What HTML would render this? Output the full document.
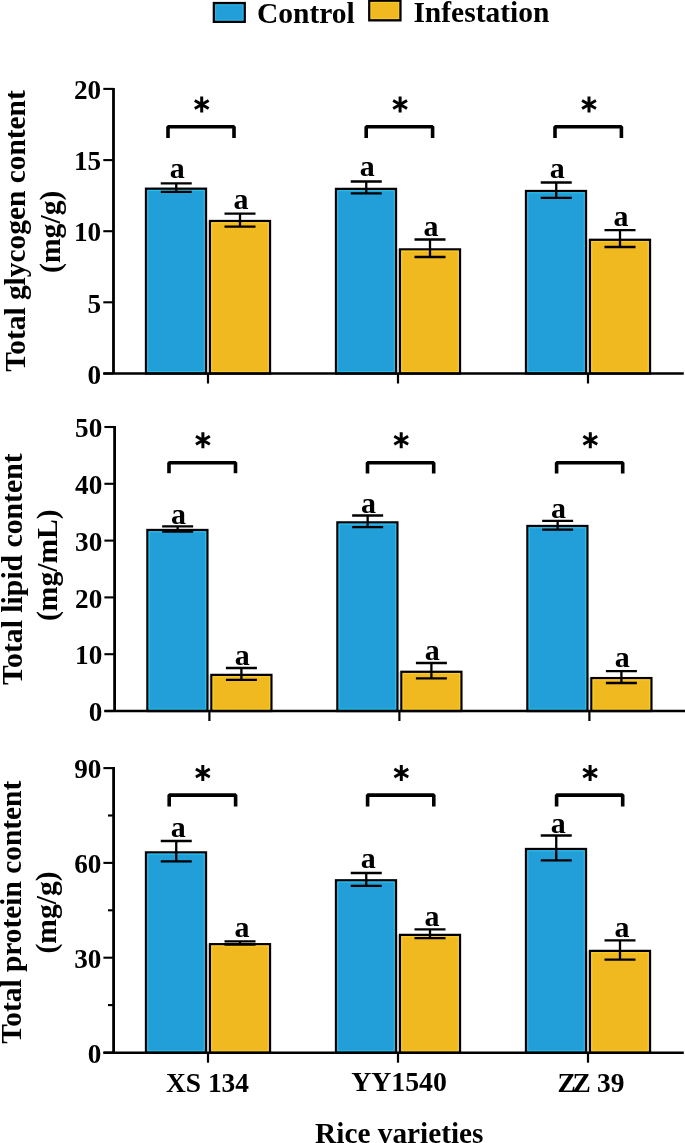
<!DOCTYPE html>
<html><head><meta charset="utf-8"><style>
html,body{margin:0;padding:0;background:#fff;}
svg{display:block;will-change:transform;}
text{font-family:"Liberation Serif", serif;font-weight:bold;fill:#000;}
</style></head><body>
<svg width="685" height="1143" viewBox="0 0 685 1143">
<rect x="213.9" y="3.1" width="30.8" height="18.7" fill="#229fd9" stroke="#000" stroke-width="2.4"/>
<rect x="215.6" y="4.8" width="27.4" height="15.3" fill="none" stroke="#2bc3ea" stroke-width="1" opacity="0.8"/>
<text x="257" y="22.5" font-size="29.5">Control</text>
<rect x="369.3" y="0.7" width="31.1" height="19.6" fill="#f0b920" stroke="#000" stroke-width="2.4"/>
<rect x="371" y="2.4" width="27.7" height="16.2" fill="none" stroke="#f9cf2a" stroke-width="1" opacity="0.8"/>
<text x="413.4" y="21.6" font-size="29.5">Infestation</text>
<rect x="207.15" y="221" width="1.7" height="152.5" fill="#e2e2e2"/>
<rect x="146" y="188.7" width="60" height="184.8" fill="#229fd9" stroke="#000" stroke-width="2.3"/><rect x="147.75" y="190.45" width="56.5" height="181.3" fill="none" stroke="#2bc3ea" stroke-width="1.2" opacity="0.9"/>
<rect x="210" y="221" width="60" height="152.5" fill="#f0b920" stroke="#000" stroke-width="2.3"/><rect x="211.75" y="222.75" width="56.5" height="149.0" fill="none" stroke="#f9cf2a" stroke-width="1.2" opacity="0.9"/>
<path d="M160.75 183.4H191.75M176.25 183.4V191.9M160.75 191.9H191.75" stroke="#000" stroke-width="2.3" fill="none"/>
<path d="M224.5 213.6H255.5M240 213.6V226.7M224.5 226.7H255.5" stroke="#000" stroke-width="2.3" fill="none"/>
<text x="177.15" y="178.3" text-anchor="middle" font-size="30">a</text>
<text x="240.9" y="209.1" text-anchor="middle" font-size="30">a</text>
<path d="M208 373.5V383.5" stroke="#000" stroke-width="2.2"/>
<rect x="397.15" y="249.4" width="1.7" height="124.1" fill="#e2e2e2"/>
<rect x="336" y="188.9" width="60" height="184.6" fill="#229fd9" stroke="#000" stroke-width="2.3"/><rect x="337.75" y="190.65" width="56.5" height="181.1" fill="none" stroke="#2bc3ea" stroke-width="1.2" opacity="0.9"/>
<rect x="400" y="249.4" width="60" height="124.1" fill="#f0b920" stroke="#000" stroke-width="2.3"/><rect x="401.75" y="251.15" width="56.5" height="120.6" fill="none" stroke="#f9cf2a" stroke-width="1.2" opacity="0.9"/>
<path d="M350.75 181.5H381.75M366.25 181.5V193.3M350.75 193.3H381.75" stroke="#000" stroke-width="2.3" fill="none"/>
<path d="M414.5 239.5H445.5M430 239.5V257.0M414.5 257.0H445.5" stroke="#000" stroke-width="2.3" fill="none"/>
<text x="367.15" y="176.2" text-anchor="middle" font-size="30">a</text>
<text x="430.9" y="236.2" text-anchor="middle" font-size="30">a</text>
<path d="M398 373.5V383.5" stroke="#000" stroke-width="2.2"/>
<rect x="587.15" y="239.8" width="1.7" height="133.7" fill="#e2e2e2"/>
<rect x="526" y="191.0" width="60" height="182.5" fill="#229fd9" stroke="#000" stroke-width="2.3"/><rect x="527.75" y="192.75" width="56.5" height="179.0" fill="none" stroke="#2bc3ea" stroke-width="1.2" opacity="0.9"/>
<rect x="590" y="239.8" width="60" height="133.7" fill="#f0b920" stroke="#000" stroke-width="2.3"/><rect x="591.75" y="241.55" width="56.5" height="130.2" fill="none" stroke="#f9cf2a" stroke-width="1.2" opacity="0.9"/>
<path d="M540.75 182.5H571.75M556.25 182.5V197.8M540.75 197.8H571.75" stroke="#000" stroke-width="2.3" fill="none"/>
<path d="M604.5 230.2H635.5M620 230.2V247.0M604.5 247.0H635.5" stroke="#000" stroke-width="2.3" fill="none"/>
<text x="557.15" y="178.2" text-anchor="middle" font-size="30">a</text>
<text x="620.9" y="225.8" text-anchor="middle" font-size="30">a</text>
<path d="M588 373.5V383.5" stroke="#000" stroke-width="2.2"/>
<path d="M113.5 87.9V373.5" stroke="#000" stroke-width="2.8"/>
<path d="M103.3 373.5H683.8" stroke="#000" stroke-width="2.5"/>
<path d="M103.3 88.9H113.5" stroke="#000" stroke-width="2.1"/>
<text x="101.2" y="99.10000000000001" text-anchor="end" font-size="27.2">20</text>
<path d="M103.3 160.1H113.5" stroke="#000" stroke-width="2.1"/>
<text x="101.2" y="170.29999999999998" text-anchor="end" font-size="27.2">15</text>
<path d="M103.3 231.2H113.5" stroke="#000" stroke-width="2.1"/>
<text x="101.2" y="241.39999999999998" text-anchor="end" font-size="27.2">10</text>
<path d="M103.3 302.3H113.5" stroke="#000" stroke-width="2.1"/>
<text x="101.2" y="312.5" text-anchor="end" font-size="27.2">5</text>
<path d="M103.3 373.5H113.5" stroke="#000" stroke-width="2.1"/>
<text x="101.2" y="383.7" text-anchor="end" font-size="27.2">0</text>
<path d="M168 138.1V126.8H234V138.1" stroke="#000" stroke-width="3.6" fill="none" stroke-linejoin="bevel"/>
<path d="M201.70 96.50L201.70 112.50M194.77 100.50L208.63 108.50M194.77 108.50L208.63 100.50" stroke="#000" stroke-width="3" fill="none"/>
<path d="M366.2 138.1V126.8H432.6V138.1" stroke="#000" stroke-width="3.6" fill="none" stroke-linejoin="bevel"/>
<path d="M400.10 96.50L400.10 112.50M393.17 100.50L407.03 108.50M393.17 108.50L407.03 100.50" stroke="#000" stroke-width="3" fill="none"/>
<path d="M555 138.1V126.8H621.4V138.1" stroke="#000" stroke-width="3.6" fill="none" stroke-linejoin="bevel"/>
<path d="M589.00 96.50L589.00 112.50M582.07 100.50L595.93 108.50M582.07 108.50L595.93 100.50" stroke="#000" stroke-width="3" fill="none"/>
<text transform="translate(24.6 231) rotate(-90)" text-anchor="middle" font-size="29.4">Total glycogen content</text>
<text transform="translate(60 231.8) rotate(-90)" text-anchor="middle" font-size="29.6">(mg/g)</text>
<rect x="208.55" y="674.9" width="1.7" height="36.10000000000002" fill="#e2e2e2"/>
<rect x="147.4" y="530.0" width="60" height="181.0" fill="#229fd9" stroke="#000" stroke-width="2.3"/><rect x="149.15" y="531.75" width="56.5" height="177.5" fill="none" stroke="#2bc3ea" stroke-width="1.2" opacity="0.9"/>
<rect x="211.4" y="674.9" width="60" height="36.10000000000002" fill="#f0b920" stroke="#000" stroke-width="2.3"/><rect x="213.15" y="676.65" width="56.5" height="32.60000000000002" fill="none" stroke="#f9cf2a" stroke-width="1.2" opacity="0.9"/>
<path d="M162.15 526.3H193.15M177.65 526.3V531.6M162.15 531.6H193.15" stroke="#000" stroke-width="2.3" fill="none"/>
<path d="M225.9 668H256.9M241.4 668V679.9M225.9 679.9H256.9" stroke="#000" stroke-width="2.3" fill="none"/>
<text x="178.55" y="523.7" text-anchor="middle" font-size="30">a</text>
<text x="242.3" y="664.5" text-anchor="middle" font-size="30">a</text>
<path d="M209.4 711V721" stroke="#000" stroke-width="2.2"/>
<rect x="398.54999999999995" y="671.8" width="1.7" height="39.200000000000045" fill="#e2e2e2"/>
<rect x="337.4" y="522.4" width="60" height="188.60000000000002" fill="#229fd9" stroke="#000" stroke-width="2.3"/><rect x="339.15" y="524.15" width="56.5" height="185.10000000000002" fill="none" stroke="#2bc3ea" stroke-width="1.2" opacity="0.9"/>
<rect x="401.4" y="671.8" width="60" height="39.200000000000045" fill="#f0b920" stroke="#000" stroke-width="2.3"/><rect x="403.15" y="673.55" width="56.5" height="35.700000000000045" fill="none" stroke="#f9cf2a" stroke-width="1.2" opacity="0.9"/>
<path d="M352.15 515.5H383.15M367.65 515.5V527.1M352.15 527.1H383.15" stroke="#000" stroke-width="2.3" fill="none"/>
<path d="M415.9 663.0H446.9M431.4 663.0V678.3M415.9 678.3H446.9" stroke="#000" stroke-width="2.3" fill="none"/>
<text x="368.54999999999995" y="513.0" text-anchor="middle" font-size="30">a</text>
<text x="432.29999999999995" y="660.1" text-anchor="middle" font-size="30">a</text>
<path d="M399.4 711V721" stroke="#000" stroke-width="2.2"/>
<rect x="588.55" y="678.1" width="1.7" height="32.89999999999998" fill="#e2e2e2"/>
<rect x="527.4" y="526.0" width="60" height="185.0" fill="#229fd9" stroke="#000" stroke-width="2.3"/><rect x="529.15" y="527.75" width="56.5" height="181.5" fill="none" stroke="#2bc3ea" stroke-width="1.2" opacity="0.9"/>
<rect x="591.4" y="678.1" width="60" height="32.89999999999998" fill="#f0b920" stroke="#000" stroke-width="2.3"/><rect x="593.15" y="679.85" width="56.5" height="29.399999999999977" fill="none" stroke="#f9cf2a" stroke-width="1.2" opacity="0.9"/>
<path d="M542.15 520.9H573.15M557.65 520.9V529.7M542.15 529.7H573.15" stroke="#000" stroke-width="2.3" fill="none"/>
<path d="M605.9 671.2H636.9M621.4 671.2V683.0M605.9 683.0H636.9" stroke="#000" stroke-width="2.3" fill="none"/>
<text x="558.55" y="517.6" text-anchor="middle" font-size="30">a</text>
<text x="622.3" y="667.3" text-anchor="middle" font-size="30">a</text>
<path d="M589.4 711V721" stroke="#000" stroke-width="2.2"/>
<path d="M114.6 426V711" stroke="#000" stroke-width="2.8"/>
<path d="M104.39999999999999 711H686" stroke="#000" stroke-width="2.5"/>
<path d="M104.39999999999999 427H114.6" stroke="#000" stroke-width="2.1"/>
<text x="102.3" y="437.2" text-anchor="end" font-size="27.2">50</text>
<path d="M104.39999999999999 483.8H114.6" stroke="#000" stroke-width="2.1"/>
<text x="102.3" y="494.0" text-anchor="end" font-size="27.2">40</text>
<path d="M104.39999999999999 540.6H114.6" stroke="#000" stroke-width="2.1"/>
<text x="102.3" y="550.8000000000001" text-anchor="end" font-size="27.2">30</text>
<path d="M104.39999999999999 597.4H114.6" stroke="#000" stroke-width="2.1"/>
<text x="102.3" y="607.6" text-anchor="end" font-size="27.2">20</text>
<path d="M104.39999999999999 654.2H114.6" stroke="#000" stroke-width="2.1"/>
<text x="102.3" y="664.4000000000001" text-anchor="end" font-size="27.2">10</text>
<path d="M104.39999999999999 711H114.6" stroke="#000" stroke-width="2.1"/>
<text x="102.3" y="721.2" text-anchor="end" font-size="27.2">0</text>
<path d="M169 473.3V462.8H235.5V473.3" stroke="#000" stroke-width="3.6" fill="none" stroke-linejoin="bevel"/>
<path d="M202.90 432.20L202.90 448.20M195.97 436.20L209.83 444.20M195.97 444.20L209.83 436.20" stroke="#000" stroke-width="3" fill="none"/>
<path d="M367.5 473.5V462.7H433.7V473.5" stroke="#000" stroke-width="3.6" fill="none" stroke-linejoin="bevel"/>
<path d="M401.20 432.30L401.20 448.30M394.27 436.30L408.13 444.30M394.27 444.30L408.13 436.30" stroke="#000" stroke-width="3" fill="none"/>
<path d="M556.6 473.5V462.7H622.7V473.5" stroke="#000" stroke-width="3.6" fill="none" stroke-linejoin="bevel"/>
<path d="M590.30 432.30L590.30 448.30M583.37 436.30L597.23 444.30M583.37 444.30L597.23 436.30" stroke="#000" stroke-width="3" fill="none"/>
<text transform="translate(22 569.2) rotate(-90)" text-anchor="middle" font-size="29.7">Total lipid content</text>
<text transform="translate(57 565.2) rotate(-90)" text-anchor="middle" font-size="29.6">(mg/mL)</text>
<rect x="207.15" y="944.2" width="1.7" height="108.5" fill="#e2e2e2"/>
<rect x="146" y="852.4" width="60" height="200.30000000000007" fill="#229fd9" stroke="#000" stroke-width="2.3"/><rect x="147.75" y="854.15" width="56.5" height="196.80000000000007" fill="none" stroke="#2bc3ea" stroke-width="1.2" opacity="0.9"/>
<rect x="210" y="944.2" width="60" height="108.5" fill="#f0b920" stroke="#000" stroke-width="2.3"/><rect x="211.75" y="945.95" width="56.5" height="105.0" fill="none" stroke="#f9cf2a" stroke-width="1.2" opacity="0.9"/>
<path d="M160.75 841.0H191.75M176.25 841.0V861.4M160.75 861.4H191.75" stroke="#000" stroke-width="2.3" fill="none"/>
<path d="M224.5 941.3H255.5M240 941.3V944.6M224.5 944.6H255.5" stroke="#000" stroke-width="2.3" fill="none"/>
<text x="178.25" y="836.9" text-anchor="middle" font-size="30">a</text>
<text x="242.0" y="936.9" text-anchor="middle" font-size="30">a</text>
<path d="M208 1052.7V1062.7" stroke="#000" stroke-width="2.2"/>
<rect x="397.15" y="934.9" width="1.7" height="117.80000000000007" fill="#e2e2e2"/>
<rect x="336" y="880.3" width="60" height="172.4000000000001" fill="#229fd9" stroke="#000" stroke-width="2.3"/><rect x="337.75" y="882.05" width="56.5" height="168.9000000000001" fill="none" stroke="#2bc3ea" stroke-width="1.2" opacity="0.9"/>
<rect x="400" y="934.9" width="60" height="117.80000000000007" fill="#f0b920" stroke="#000" stroke-width="2.3"/><rect x="401.75" y="936.65" width="56.5" height="114.30000000000007" fill="none" stroke="#f9cf2a" stroke-width="1.2" opacity="0.9"/>
<path d="M350.75 873H381.75M366.25 873V885.8M350.75 885.8H381.75" stroke="#000" stroke-width="2.3" fill="none"/>
<path d="M414.5 929.4H445.5M430 929.4V938.1M414.5 938.1H445.5" stroke="#000" stroke-width="2.3" fill="none"/>
<text x="368.25" y="868.4" text-anchor="middle" font-size="30">a</text>
<text x="432.0" y="926.3" text-anchor="middle" font-size="30">a</text>
<path d="M398 1052.7V1062.7" stroke="#000" stroke-width="2.2"/>
<rect x="587.15" y="950.9" width="1.7" height="101.80000000000007" fill="#e2e2e2"/>
<rect x="526" y="849" width="60" height="203.70000000000005" fill="#229fd9" stroke="#000" stroke-width="2.3"/><rect x="527.75" y="850.75" width="56.5" height="200.20000000000005" fill="none" stroke="#2bc3ea" stroke-width="1.2" opacity="0.9"/>
<rect x="590" y="950.9" width="60" height="101.80000000000007" fill="#f0b920" stroke="#000" stroke-width="2.3"/><rect x="591.75" y="952.65" width="56.5" height="98.30000000000007" fill="none" stroke="#f9cf2a" stroke-width="1.2" opacity="0.9"/>
<path d="M540.75 835.5H571.75M556.25 835.5V860.3M540.75 860.3H571.75" stroke="#000" stroke-width="2.3" fill="none"/>
<path d="M604.5 940.4H635.5M620 940.4V959.7M604.5 959.7H635.5" stroke="#000" stroke-width="2.3" fill="none"/>
<text x="558.25" y="832.7" text-anchor="middle" font-size="30">a</text>
<text x="622.0" y="937.3" text-anchor="middle" font-size="30">a</text>
<path d="M588 1052.7V1062.7" stroke="#000" stroke-width="2.2"/>
<path d="M113.6 767.1V1052.7" stroke="#000" stroke-width="2.8"/>
<path d="M103.39999999999999 1052.7H683.8" stroke="#000" stroke-width="2.5"/>
<path d="M103.39999999999999 768.1H113.6" stroke="#000" stroke-width="2.1"/>
<text x="101.4" y="778.3000000000001" text-anchor="end" font-size="27.2">90</text>
<path d="M103.39999999999999 862.9H113.6" stroke="#000" stroke-width="2.1"/>
<text x="101.4" y="873.1" text-anchor="end" font-size="27.2">60</text>
<path d="M103.39999999999999 957.7H113.6" stroke="#000" stroke-width="2.1"/>
<text x="101.4" y="967.9000000000001" text-anchor="end" font-size="27.2">30</text>
<path d="M103.39999999999999 1052.6H113.6" stroke="#000" stroke-width="2.1"/>
<text x="101.4" y="1062.8" text-anchor="end" font-size="27.2">0</text>
<path d="M108.0 815.5H113.6" stroke="#000" stroke-width="2.1"/>
<path d="M108.0 910.3H113.6" stroke="#000" stroke-width="2.1"/>
<path d="M108.0 1005.1H113.6" stroke="#000" stroke-width="2.1"/>
<path d="M169.2 806.5V795.1H235.6V806.5" stroke="#000" stroke-width="3.6" fill="none" stroke-linejoin="bevel"/>
<path d="M202.80 765.00L202.80 781.00M195.87 769.00L209.73 777.00M195.87 777.00L209.73 769.00" stroke="#000" stroke-width="3" fill="none"/>
<path d="M367.6 806.5V795.1H433.8V806.5" stroke="#000" stroke-width="3.6" fill="none" stroke-linejoin="bevel"/>
<path d="M401.30 765.00L401.30 781.00M394.37 769.00L408.23 777.00M394.37 777.00L408.23 769.00" stroke="#000" stroke-width="3" fill="none"/>
<path d="M556.6 806.5V795.1H622.7V806.5" stroke="#000" stroke-width="3.6" fill="none" stroke-linejoin="bevel"/>
<path d="M590.10 765.00L590.10 781.00M583.17 769.00L597.03 777.00M583.17 777.00L597.03 769.00" stroke="#000" stroke-width="3" fill="none"/>
<text transform="translate(21 912.2) rotate(-90)" text-anchor="middle" font-size="29.4">Total protein content</text>
<text transform="translate(56.2 912.4) rotate(-90)" text-anchor="middle" font-size="29.6">(mg/g)</text>
<text x="207.5" y="1091.5" text-anchor="middle" font-size="27.4">XS 134</text>
<text x="399" y="1091" text-anchor="middle" font-size="27.8">YY1540</text>
<text x="557.6" y="1092" font-size="27.4">Z<tspan dx="-3.4">Z</tspan><tspan dx="-0.6"> 39</tspan></text>
<text x="399.3" y="1143" text-anchor="middle" font-size="29.3">Rice varieties</text>
</svg>
</body></html>
